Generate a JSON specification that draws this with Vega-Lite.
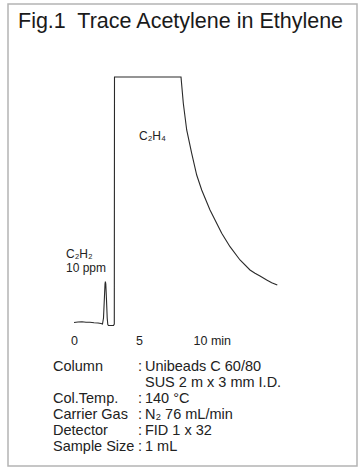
{
  "$schema": "https://vega.github.io/schema/vega-lite/v6.json",
  "width": 349,
  "height": 462,
  "autosize": {"type": "none"},
  "padding": {"left": 8, "top": 4, "right": 7, "bottom": 7},
  "background": "white",
  "config": {
    "view": {"stroke": "#b4b4b4", "strokeWidth": 1.5},
    "font": "Liberation Sans"
  },
  "datasets": {
    "heading": [
      {"t": -4.308, "v": 122.4, "label": "Fig.1\u00a0 Trace Acetylene in Ethylene"}
    ],
    "trace": [
      {"t": 0.0, "v": 0.2},
      {"t": 0.308, "v": 0.41},
      {"t": 0.615, "v": 0.53},
      {"t": 0.923, "v": 0.28},
      {"t": 1.231, "v": 0.28},
      {"t": 1.538, "v": 0.12},
      {"t": 1.846, "v": 0.0},
      {"t": 2.077, "v": -0.2},
      {"t": 2.192, "v": -0.41},
      {"t": 2.269, "v": 2.03},
      {"t": 2.331, "v": 9.35},
      {"t": 2.385, "v": 15.85},
      {"t": 2.415, "v": 16.87},
      {"t": 2.446, "v": 15.85},
      {"t": 2.5, "v": 9.35},
      {"t": 2.554, "v": 2.03},
      {"t": 2.6, "v": -0.61},
      {"t": 2.654, "v": -1.02},
      {"t": 3.038, "v": -1.02},
      {"t": 3.1, "v": -0.41},
      {"t": 3.115, "v": 100},
      {"t": 8.231, "v": 100},
      {"t": 8.408, "v": 89.3},
      {"t": 8.669, "v": 78.46},
      {"t": 9.054, "v": 68.98},
      {"t": 9.438, "v": 60.16},
      {"t": 9.823, "v": 54.07},
      {"t": 10.462, "v": 45.93},
      {"t": 11.362, "v": 36.46},
      {"t": 12.0, "v": 31.02},
      {"t": 12.769, "v": 25.61},
      {"t": 13.538, "v": 21.54},
      {"t": 13.923, "v": 20.2},
      {"t": 14.308, "v": 19.11},
      {"t": 14.823, "v": 17.48},
      {"t": 15.208, "v": 16.38},
      {"t": 15.638, "v": 15.45}
    ],
    "peaks": [
      {"t": 5.0, "v": 76.0, "label": "C₂H₄"},
      {"t": -0.615, "v": 28.05, "label": "C₂H₂"},
      {"t": -0.615, "v": 22.36, "label": "10 ppm"}
    ],
    "conditions": [
      {"v": -17.89, "item": "Column", "sep": ":", "value": "Unibeads C 60/80"},
      {"v": -24.39, "item": "", "sep": "", "value": "SUS 2 m x 3 mm I.D."},
      {"v": -30.89, "item": "Col.Temp.", "sep": ":", "value": "140 °C"},
      {"v": -37.4, "item": "Carrier Gas", "sep": ":", "value": "N₂ 76 mL/min"},
      {"v": -43.9, "item": "Detector", "sep": ":", "value": "FID 1 x 32"},
      {"v": -50.41, "item": "Sample Size", "sep": ":", "value": "1 mL"}
    ]
  },
  "layer": [
    {
      "data": {"name": "trace"},
      "mark": {"type": "line", "stroke": "#2a2a2a", "strokeWidth": 1.1},
      "encoding": {
        "x": {
          "field": "t",
          "type": "quantitative",
          "scale": {"domain": [-5.0769, 21.769], "nice": false, "zero": false},
          "axis": {
            "values": [0, 5, 10],
            "domain": false,
            "ticks": false,
            "tickSize": 0,
            "grid": false,
            "title": null,
            "labelExpr": "datum.value == 10 ? '10 min' : datum.label",
            "labelFont": "Liberation Sans",
            "labelFontSize": 12.5,
            "labelColor": "#222222",
            "labelPadding": 0,
            "labelBaseline": "middle",
            "labelFlush": false,
            "labelOverlap": false,
            "labelBound": false,
            "offset": -126,
            "labelAlign": {"condition": {"test": "datum.value == 10", "value": "left"}, "value": "center"},
            "labelOffset": {"condition": {"test": "datum.value == 10", "value": -11}, "value": 0}
          }
        },
        "y": {
          "field": "v",
          "type": "quantitative",
          "scale": {"domain": [-58.13, 129.67], "nice": false, "zero": false},
          "axis": null
        }
      }
    },
    {
      "data": {"name": "heading"},
      "mark": {"type": "text", "align": "left", "baseline": "middle", "fontSize": 21.5, "color": "#1a1a1a", "font": "Liberation Sans"},
      "encoding": {
        "x": {"field": "t", "type": "quantitative"},
        "y": {"field": "v", "type": "quantitative"},
        "text": {"field": "label"}
      }
    },
    {
      "data": {"name": "peaks"},
      "mark": {"type": "text", "align": "left", "baseline": "middle", "fontSize": 12, "color": "#222222", "font": "Liberation Sans"},
      "encoding": {
        "x": {"field": "t", "type": "quantitative"},
        "y": {"field": "v", "type": "quantitative"},
        "text": {"field": "label"}
      }
    },
    {
      "data": {"name": "conditions"},
      "mark": {"type": "text", "align": "left", "baseline": "middle", "fontSize": 14.5, "color": "#222222", "font": "Liberation Sans"},
      "encoding": {
        "x": {"datum": -1.615, "type": "quantitative"},
        "y": {"field": "v", "type": "quantitative"},
        "text": {"field": "item"}
      }
    },
    {
      "data": {"name": "conditions"},
      "mark": {"type": "text", "align": "center", "baseline": "middle", "fontSize": 14.5, "color": "#222222", "font": "Liberation Sans"},
      "encoding": {
        "x": {"datum": 5.077, "type": "quantitative"},
        "y": {"field": "v", "type": "quantitative"},
        "text": {"field": "sep"}
      }
    },
    {
      "data": {"name": "conditions"},
      "mark": {"type": "text", "align": "left", "baseline": "middle", "fontSize": 14.5, "color": "#222222", "font": "Liberation Sans"},
      "encoding": {
        "x": {"datum": 5.46, "type": "quantitative"},
        "y": {"field": "v", "type": "quantitative"},
        "text": {"field": "value"}
      }
    }
  ]
}
